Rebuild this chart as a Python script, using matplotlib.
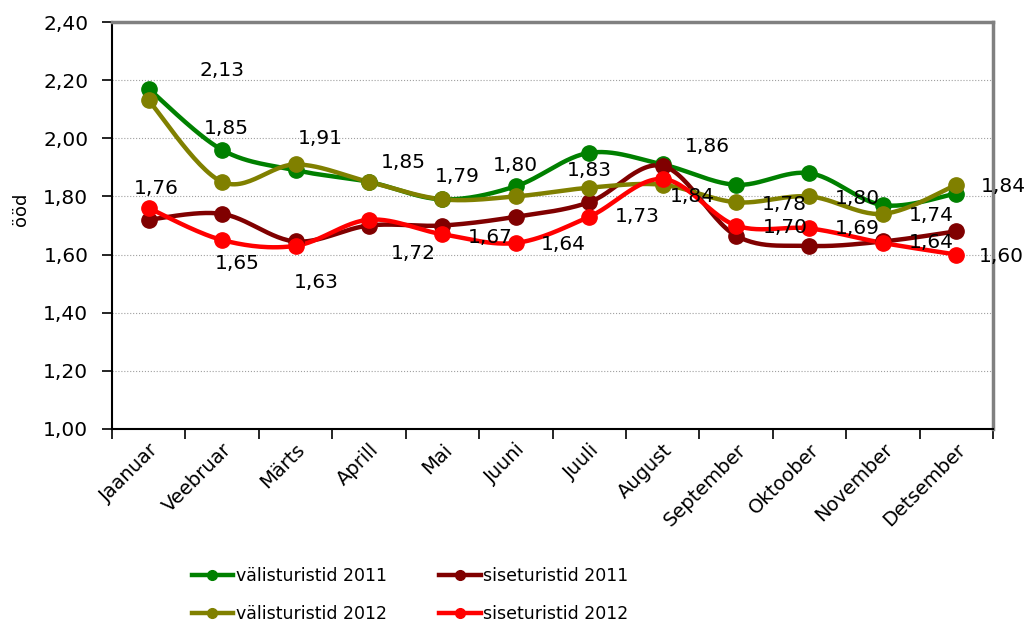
import matplotlib
matplotlib.use("Agg")
import matplotlib.pyplot as plt
import numpy as np
from matplotlib.ticker import FixedLocator, FuncFormatter

months = ['Jaanuar', 'Veebruar', 'Märts', 'Aprill', 'Mai', 'Juuni', 'Juuli',
          'August', 'September', 'Oktoober', 'November', 'Detsember']
valis_2011 = [2.17, 1.96, 1.89, 1.85, 1.79, 1.835, 1.95, 1.91, 1.84, 1.88, 1.77, 1.81]
sise_2011 = [1.72, 1.74, 1.645, 1.70, 1.70, 1.73, 1.78, 1.905, 1.665, 1.63, 1.645, 1.68]
valis_2012 = [2.13, 1.85, 1.91, 1.85, 1.79, 1.80, 1.83, 1.84, 1.78, 1.80, 1.74, 1.84]
sise_2012 = [1.76, 1.65, 1.63, 1.72, 1.67, 1.64, 1.73, 1.86, 1.70, 1.69, 1.64, 1.60]

# label offsets in pixels (dx right, dy up)
off_valis_2012 = [(73, 30), (4, 53), (25, 26), (34, 19), (15, 23), (0, 31),
                  (0, 17), (30, -12), (48, -2), (48, -2), (48, -2), (47, -2)]
off_sise_2012 = [(8, 20), (15, -23), (21, -37), (44, -34), (48, -3), (48, -2),
                 (48, 0), (45, 32), (49, -2), (48, 0), (48, 0), (45, -2)]


def smooth(x, y, n=30):
    # catmull-rom style bezier, like excel's smoothed lines
    x = np.asarray(x, float)
    y = np.asarray(y, float)
    P = np.column_stack([x, y])
    ext = np.vstack([P[0], P, P[-1]])
    out = []
    t = np.linspace(0, 1, n)[:, None]
    for i in range(len(P) - 1):
        p0, p1, p2, p3 = ext[i], ext[i + 1], ext[i + 2], ext[i + 3]
        c1 = p1 + (p2 - p0) / 6
        c2 = p2 - (p3 - p1) / 6
        seg = ((1 - t) ** 3) * p1 + 3 * ((1 - t) ** 2) * t * c1 + 3 * (1 - t) * t ** 2 * c2 + t ** 3 * p2
        out.append(seg if i == 0 else seg[1:])
    out = np.vstack(out)
    return out[:, 0], out[:, 1]


fig = plt.figure(figsize=(10.28, 6.28), dpi=100)
ax = fig.add_axes([112 / 1028, 1 - 429 / 628, 881 / 1028, 407 / 628])

x = np.arange(len(months))
series = [
    (valis_2011, '#008000', 'välisturistid 2011'),
    (sise_2011, '#800000', 'siseturistid 2011'),
    (valis_2012, '#808000', 'välisturistid 2012'),
    (sise_2012, '#ff0000', 'siseturistid 2012'),
]
handles = {}
for vals, col, name in series:
    sx, sy = smooth(x, vals)
    ax.plot(sx, sy, color=col, lw=3.2, solid_capstyle='round', zorder=3)
    ax.plot(x, vals, 'o', color=col, ms=11, zorder=4)
    h, = ax.plot([], [], '-o', color=col, lw=3.2, ms=7, label=name)
    handles[name] = h

for vals, offs in [(valis_2012, off_valis_2012), (sise_2012, off_sise_2012)]:
    for xi, v, (dx, dy) in zip(x, vals, offs):
        ax.annotate(f'{v:.2f}'.replace('.', ','), (xi, v), xytext=(dx, dy),
                    textcoords='offset pixels', ha='center', va='center',
                    fontsize=14.5, color='black', zorder=5)

ax.set_xlim(-0.5, len(months) - 0.5)
ax.set_ylim(1.0, 2.4)
ax.set_yticks(np.arange(1.0, 2.41, 0.2))
ax.yaxis.set_major_formatter(FuncFormatter(lambda v, p: f'{v:.2f}'.replace('.', ',')))
ax.set_xticks(x)
ax.set_xticklabels(months, rotation=45, ha='right', va='top', rotation_mode='anchor')
ax.xaxis.set_minor_locator(FixedLocator(np.arange(-0.5, len(months), 1.0)))
ax.tick_params(axis='x', which='major', length=0, pad=8, labelsize=14)
ax.tick_params(axis='x', which='minor', length=7, width=1.2, direction='out')
ax.tick_params(axis='y', length=7, width=1.2, direction='out', pad=10, labelsize=14.5)

for yv in np.arange(1.2, 2.39, 0.2):
    ax.axhline(yv, color='#a0a0a0', lw=0.8, ls=':', zorder=1)

ax.spines['left'].set_color('black')
ax.spines['left'].set_linewidth(1.5)
ax.spines['bottom'].set_color('black')
ax.spines['bottom'].set_linewidth(1.5)
ax.spines['top'].set_color('#808080')
ax.spines['top'].set_linewidth(2.5)
ax.spines['right'].set_color('#808080')
ax.spines['right'].set_linewidth(2.5)

ax.set_ylabel('ööd', fontsize=13)
ax.yaxis.set_label_coords(-0.093, 0.54)

order = ['välisturistid 2011', 'välisturistid 2012', 'siseturistid 2011', 'siseturistid 2012']
fig.legend(handles=[handles[k] for k in order], ncol=2, loc='center',
           bbox_to_anchor=(410 / 1028, 1 - 595 / 628),
           frameon=False, fontsize=12.5, handlelength=2.4, columnspacing=3.0,
           handletextpad=0.15, labelspacing=1.2)

fig.savefig('out.png', dpi=100)
